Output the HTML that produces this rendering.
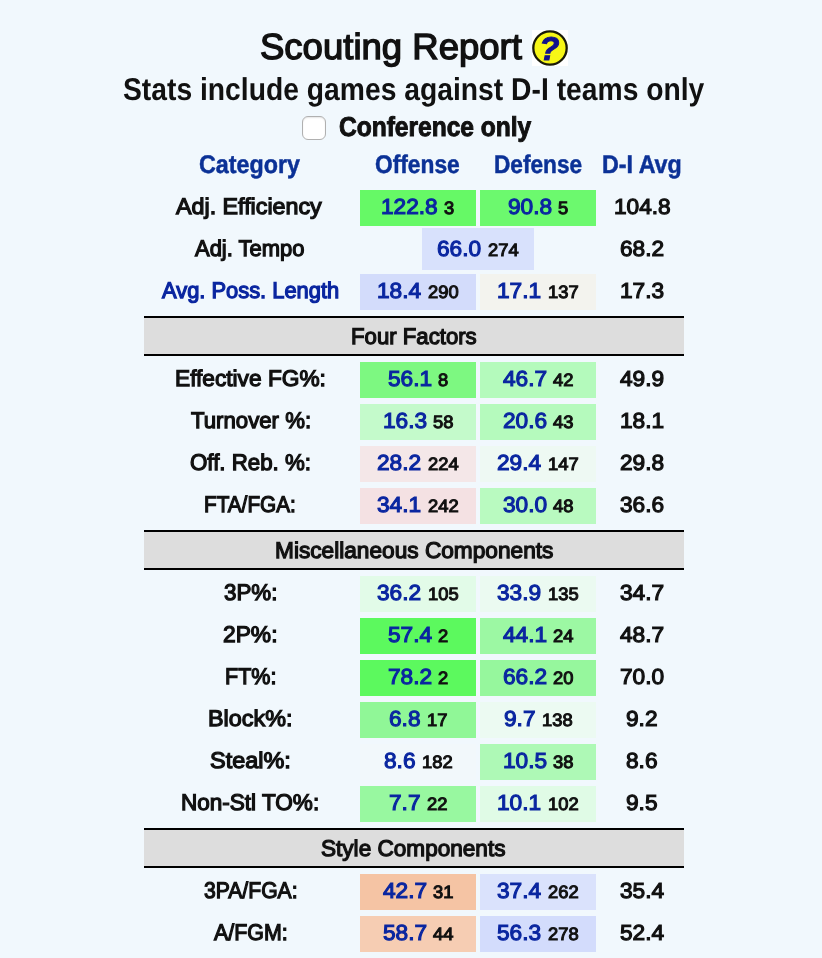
<!DOCTYPE html>
<html lang="en"><head><meta charset="utf-8"><title>Scouting Report</title>
<style>
html,body{margin:0;padding:0;}
body{width:822px;height:958px;background:#f1f8fd;position:relative;overflow:hidden;
 font-family:"Liberation Sans","DejaVu Sans",sans-serif;color:#111;text-rendering:geometricPrecision;}
.t{position:absolute;white-space:nowrap;line-height:1;transform-origin:0 0;display:block;-webkit-text-stroke:0px currentColor;font-weight:bold;}
.n{font-weight:normal;}
.cell{position:absolute;}
.sec{position:absolute;left:144px;width:540px;height:36px;border-top:2px solid #000;border-bottom:2px solid #000;background:#dddddd;}
.cb{-webkit-appearance:none;appearance:none;margin:0;padding:0;display:block;position:absolute;left:302px;top:116px;width:24px;height:23.5px;border:1.2px solid #b0b0b0;border-radius:6px;background:#fff;box-sizing:border-box;box-shadow:inset 0 1px 1.5px rgba(0,0,0,0.10);}
.help{position:absolute;left:532px;top:29.75px;width:36px;height:36px;background:#fff;}
</style></head><body>

<div class="sec" style="top:316px"></div>
<div class="sec" style="top:530px"></div>
<div class="sec" style="top:828px"></div>
<div class="cell" style="left:360px;top:190px;width:116px;height:36px;background:#66f966"></div>
<div class="cell" style="left:480px;top:190px;width:116px;height:36px;background:#6cf96e"></div>
<div class="cell" style="left:422px;top:228px;width:112px;height:42px;background:#d8e1fc"></div>
<div class="cell" style="left:360px;top:274px;width:116px;height:36px;background:#d3dcfb"></div>
<div class="cell" style="left:480px;top:274px;width:116px;height:36px;background:#f3f3ee"></div>
<div class="cell" style="left:360px;top:362px;width:116px;height:36px;background:#7df881"></div>
<div class="cell" style="left:480px;top:362px;width:116px;height:36px;background:#b4fabc"></div>
<div class="cell" style="left:360px;top:404px;width:116px;height:36px;background:#c4facb"></div>
<div class="cell" style="left:480px;top:404px;width:116px;height:36px;background:#b5fabd"></div>
<div class="cell" style="left:360px;top:446px;width:116px;height:36px;background:#f4e7e8"></div>
<div class="cell" style="left:480px;top:446px;width:116px;height:36px;background:#eef9f3"></div>
<div class="cell" style="left:360px;top:488px;width:116px;height:36px;background:#f4e1e3"></div>
<div class="cell" style="left:480px;top:488px;width:116px;height:36px;background:#b9fac0"></div>
<div class="cell" style="left:360px;top:576px;width:116px;height:36px;background:#e2fbe8"></div>
<div class="cell" style="left:480px;top:576px;width:116px;height:36px;background:#ebfaf1"></div>
<div class="cell" style="left:360px;top:618px;width:116px;height:36px;background:#5cf95e"></div>
<div class="cell" style="left:480px;top:618px;width:116px;height:36px;background:#9cf8a3"></div>
<div class="cell" style="left:360px;top:660px;width:116px;height:36px;background:#5cf95e"></div>
<div class="cell" style="left:480px;top:660px;width:116px;height:36px;background:#96f79d"></div>
<div class="cell" style="left:360px;top:702px;width:116px;height:36px;background:#90f797"></div>
<div class="cell" style="left:480px;top:702px;width:116px;height:36px;background:#ecfaf2"></div>
<div class="cell" style="left:360px;top:744px;width:116px;height:36px;background:#f2f8fb"></div>
<div class="cell" style="left:480px;top:744px;width:116px;height:36px;background:#aef9b6"></div>
<div class="cell" style="left:360px;top:786px;width:116px;height:36px;background:#98f8a0"></div>
<div class="cell" style="left:480px;top:786px;width:116px;height:36px;background:#e0fbe6"></div>
<div class="cell" style="left:360px;top:874px;width:116px;height:36px;background:#f5c4a4"></div>
<div class="cell" style="left:480px;top:874px;width:116px;height:36px;background:#dae2fc"></div>
<div class="cell" style="left:360px;top:916px;width:116px;height:36px;background:#f6cdb3"></div>
<div class="cell" style="left:480px;top:916px;width:116px;height:36px;background:#d3dcfc"></div>
<input type="checkbox" class="cb" aria-label="Conference only">
<div class="help"><svg width="36" height="36" viewBox="0 0 36 36"><circle cx="18" cy="18" r="16.7" fill="#f7f716" stroke="#1a1a08" stroke-width="2.3"/><text x="17.4" y="30.1" text-anchor="middle" font-family="Liberation Sans, sans-serif" font-weight="bold" font-style="italic" font-size="33" fill="#12128c" stroke="#12128c" stroke-width="1">?</text></svg></div>
<span class="t n" style="left:259.70px;top:28.67px;font-size:36.3px;transform:scaleX(1.0062);color:#111111;-webkit-text-stroke-width:1.4px;">Scouting Report</span>
<span class="t" style="left:123.00px;top:73.75px;font-size:31.6px;transform:scaleX(0.8949);color:#111111;">Stats include games against D-I teams only</span>
<span class="t" style="left:339.15px;top:112.89px;font-size:27.3px;transform:scaleX(0.8990);color:#111111;-webkit-text-stroke-width:1.0px;">Conference only</span>
<span class="t" style="left:198.82px;top:152.73px;font-size:25.6px;transform:scaleX(0.9101);color:#0b3196;-webkit-text-stroke-width:0.5px;">Category</span>
<span class="t" style="left:375.43px;top:152.73px;font-size:25.6px;transform:scaleX(0.8894);color:#0b3196;-webkit-text-stroke-width:0.5px;">Offense</span>
<span class="t" style="left:494.04px;top:152.73px;font-size:25.6px;transform:scaleX(0.8853);color:#0b3196;-webkit-text-stroke-width:0.5px;">Defense</span>
<span class="t" style="left:601.92px;top:152.73px;font-size:25.6px;transform:scaleX(0.9099);color:#0b3196;-webkit-text-stroke-width:0.5px;">D-I Avg</span>
<span class="t n" style="left:176.44px;top:195.18px;font-size:22.7px;transform:scaleX(1.0258);color:#111111;-webkit-text-stroke-width:1.25px;">Adj. Efficiency</span>
<span class="t n" style="left:195.41px;top:237.18px;font-size:22.7px;transform:scaleX(0.9682);color:#111111;-webkit-text-stroke-width:1.25px;">Adj. Tempo</span>
<span class="t n" style="left:161.60px;top:279.18px;font-size:22.7px;transform:scaleX(0.9644);color:#0a26a0;-webkit-text-stroke-width:1.25px;">Avg. Poss. Length</span>
<span class="t n" style="left:174.83px;top:367.18px;font-size:22.7px;transform:scaleX(0.9998);color:#111111;-webkit-text-stroke-width:1.25px;">Effective FG%:</span>
<span class="t n" style="left:190.61px;top:409.18px;font-size:22.7px;transform:scaleX(0.9783);color:#111111;-webkit-text-stroke-width:1.25px;">Turnover %:</span>
<span class="t n" style="left:189.63px;top:451.18px;font-size:22.7px;transform:scaleX(0.9828);color:#111111;-webkit-text-stroke-width:1.25px;">Off. Reb. %:</span>
<span class="t n" style="left:204.26px;top:493.18px;font-size:22.7px;transform:scaleX(0.9139);color:#111111;-webkit-text-stroke-width:1.25px;">FTA/FGA:</span>
<span class="t n" style="left:224.22px;top:581.18px;font-size:22.7px;transform:scaleX(0.9857);color:#111111;-webkit-text-stroke-width:1.25px;">3P%:</span>
<span class="t n" style="left:223.22px;top:623.18px;font-size:22.7px;transform:scaleX(1.0043);color:#111111;-webkit-text-stroke-width:1.25px;">2P%:</span>
<span class="t n" style="left:224.84px;top:665.18px;font-size:22.7px;transform:scaleX(0.9484);color:#111111;-webkit-text-stroke-width:1.25px;">FT%:</span>
<span class="t n" style="left:208.01px;top:707.18px;font-size:22.7px;transform:scaleX(1.0297);color:#111111;-webkit-text-stroke-width:1.25px;">Block%:</span>
<span class="t n" style="left:209.51px;top:749.18px;font-size:22.7px;transform:scaleX(1.0333);color:#111111;-webkit-text-stroke-width:1.25px;">Steal%:</span>
<span class="t n" style="left:181.43px;top:791.18px;font-size:22.7px;transform:scaleX(0.9930);color:#111111;-webkit-text-stroke-width:1.25px;">Non-Stl TO%:</span>
<span class="t n" style="left:203.88px;top:879.18px;font-size:22.7px;transform:scaleX(0.9314);color:#111111;-webkit-text-stroke-width:1.25px;">3PA/FGA:</span>
<span class="t n" style="left:213.59px;top:921.18px;font-size:22.7px;transform:scaleX(0.9425);color:#111111;-webkit-text-stroke-width:1.25px;">A/FGM:</span>
<span class="t n" style="left:351.23px;top:325.18px;font-size:22.7px;transform:scaleX(0.9774);color:#111111;-webkit-text-stroke-width:1.25px;">Four Factors</span>
<span class="t n" style="left:274.73px;top:539.18px;font-size:22.7px;transform:scaleX(0.9989);color:#111111;-webkit-text-stroke-width:1.25px;">Miscellaneous Components</span>
<span class="t n" style="left:321.43px;top:837.18px;font-size:22.7px;transform:scaleX(0.9952);color:#111111;-webkit-text-stroke-width:1.25px;">Style Components</span>
<span class="t n" style="left:381.39px;top:195.55px;font-size:21.8px;transform:scaleX(1.0400);color:#0a26a0;-webkit-text-stroke-width:1.1px;">122.8</span>
<span class="t n" style="left:444.41px;top:199.75px;font-size:17.9px;transform:scaleX(1.0250);color:#111111;-webkit-text-stroke-width:1.0625px;">3</span>
<span class="t n" style="left:507.69px;top:195.55px;font-size:21.8px;transform:scaleX(1.0400);color:#0a26a0;-webkit-text-stroke-width:1.1px;">90.8</span>
<span class="t n" style="left:558.11px;top:199.75px;font-size:17.9px;transform:scaleX(1.0250);color:#111111;-webkit-text-stroke-width:1.0625px;">5</span>
<span class="t n" style="left:437.49px;top:237.55px;font-size:21.8px;transform:scaleX(1.0400);color:#0a26a0;-webkit-text-stroke-width:1.1px;">66.0</span>
<span class="t n" style="left:487.91px;top:241.75px;font-size:17.9px;transform:scaleX(1.0250);color:#111111;-webkit-text-stroke-width:1.0625px;">274</span>
<span class="t n" style="left:377.49px;top:279.55px;font-size:21.8px;transform:scaleX(1.0400);color:#0a26a0;-webkit-text-stroke-width:1.1px;">18.4</span>
<span class="t n" style="left:427.91px;top:283.75px;font-size:17.9px;transform:scaleX(1.0250);color:#111111;-webkit-text-stroke-width:1.0625px;">290</span>
<span class="t n" style="left:497.49px;top:279.55px;font-size:21.8px;transform:scaleX(1.0400);color:#0a26a0;-webkit-text-stroke-width:1.1px;">17.1</span>
<span class="t n" style="left:547.91px;top:283.75px;font-size:17.9px;transform:scaleX(1.0250);color:#111111;-webkit-text-stroke-width:1.0625px;">137</span>
<span class="t n" style="left:387.69px;top:367.55px;font-size:21.8px;transform:scaleX(1.0400);color:#0a26a0;-webkit-text-stroke-width:1.1px;">56.1</span>
<span class="t n" style="left:438.11px;top:371.75px;font-size:17.9px;transform:scaleX(1.0250);color:#111111;-webkit-text-stroke-width:1.0625px;">8</span>
<span class="t n" style="left:502.59px;top:367.55px;font-size:21.8px;transform:scaleX(1.0400);color:#0a26a0;-webkit-text-stroke-width:1.1px;">46.7</span>
<span class="t n" style="left:553.01px;top:371.75px;font-size:17.9px;transform:scaleX(1.0250);color:#111111;-webkit-text-stroke-width:1.0625px;">42</span>
<span class="t n" style="left:382.59px;top:409.55px;font-size:21.8px;transform:scaleX(1.0400);color:#0a26a0;-webkit-text-stroke-width:1.1px;">16.3</span>
<span class="t n" style="left:433.01px;top:413.75px;font-size:17.9px;transform:scaleX(1.0250);color:#111111;-webkit-text-stroke-width:1.0625px;">58</span>
<span class="t n" style="left:502.59px;top:409.55px;font-size:21.8px;transform:scaleX(1.0400);color:#0a26a0;-webkit-text-stroke-width:1.1px;">20.6</span>
<span class="t n" style="left:553.01px;top:413.75px;font-size:17.9px;transform:scaleX(1.0250);color:#111111;-webkit-text-stroke-width:1.0625px;">43</span>
<span class="t n" style="left:377.49px;top:451.55px;font-size:21.8px;transform:scaleX(1.0400);color:#0a26a0;-webkit-text-stroke-width:1.1px;">28.2</span>
<span class="t n" style="left:427.91px;top:455.75px;font-size:17.9px;transform:scaleX(1.0250);color:#111111;-webkit-text-stroke-width:1.0625px;">224</span>
<span class="t n" style="left:497.49px;top:451.55px;font-size:21.8px;transform:scaleX(1.0400);color:#0a26a0;-webkit-text-stroke-width:1.1px;">29.4</span>
<span class="t n" style="left:547.91px;top:455.75px;font-size:17.9px;transform:scaleX(1.0250);color:#111111;-webkit-text-stroke-width:1.0625px;">147</span>
<span class="t n" style="left:377.49px;top:493.55px;font-size:21.8px;transform:scaleX(1.0400);color:#0a26a0;-webkit-text-stroke-width:1.1px;">34.1</span>
<span class="t n" style="left:427.91px;top:497.75px;font-size:17.9px;transform:scaleX(1.0250);color:#111111;-webkit-text-stroke-width:1.0625px;">242</span>
<span class="t n" style="left:502.59px;top:493.55px;font-size:21.8px;transform:scaleX(1.0400);color:#0a26a0;-webkit-text-stroke-width:1.1px;">30.0</span>
<span class="t n" style="left:553.01px;top:497.75px;font-size:17.9px;transform:scaleX(1.0250);color:#111111;-webkit-text-stroke-width:1.0625px;">48</span>
<span class="t n" style="left:377.49px;top:581.55px;font-size:21.8px;transform:scaleX(1.0400);color:#0a26a0;-webkit-text-stroke-width:1.1px;">36.2</span>
<span class="t n" style="left:427.91px;top:585.75px;font-size:17.9px;transform:scaleX(1.0250);color:#111111;-webkit-text-stroke-width:1.0625px;">105</span>
<span class="t n" style="left:497.49px;top:581.55px;font-size:21.8px;transform:scaleX(1.0400);color:#0a26a0;-webkit-text-stroke-width:1.1px;">33.9</span>
<span class="t n" style="left:547.91px;top:585.75px;font-size:17.9px;transform:scaleX(1.0250);color:#111111;-webkit-text-stroke-width:1.0625px;">135</span>
<span class="t n" style="left:387.69px;top:623.55px;font-size:21.8px;transform:scaleX(1.0400);color:#0a26a0;-webkit-text-stroke-width:1.1px;">57.4</span>
<span class="t n" style="left:438.11px;top:627.75px;font-size:17.9px;transform:scaleX(1.0250);color:#111111;-webkit-text-stroke-width:1.0625px;">2</span>
<span class="t n" style="left:502.59px;top:623.55px;font-size:21.8px;transform:scaleX(1.0400);color:#0a26a0;-webkit-text-stroke-width:1.1px;">44.1</span>
<span class="t n" style="left:553.01px;top:627.75px;font-size:17.9px;transform:scaleX(1.0250);color:#111111;-webkit-text-stroke-width:1.0625px;">24</span>
<span class="t n" style="left:387.69px;top:665.55px;font-size:21.8px;transform:scaleX(1.0400);color:#0a26a0;-webkit-text-stroke-width:1.1px;">78.2</span>
<span class="t n" style="left:438.11px;top:669.75px;font-size:17.9px;transform:scaleX(1.0250);color:#111111;-webkit-text-stroke-width:1.0625px;">2</span>
<span class="t n" style="left:502.59px;top:665.55px;font-size:21.8px;transform:scaleX(1.0400);color:#0a26a0;-webkit-text-stroke-width:1.1px;">66.2</span>
<span class="t n" style="left:553.01px;top:669.75px;font-size:17.9px;transform:scaleX(1.0250);color:#111111;-webkit-text-stroke-width:1.0625px;">20</span>
<span class="t n" style="left:388.89px;top:707.55px;font-size:21.8px;transform:scaleX(1.0400);color:#0a26a0;-webkit-text-stroke-width:1.1px;">6.8</span>
<span class="t n" style="left:426.71px;top:711.75px;font-size:17.9px;transform:scaleX(1.0250);color:#111111;-webkit-text-stroke-width:1.0625px;">17</span>
<span class="t n" style="left:503.79px;top:707.55px;font-size:21.8px;transform:scaleX(1.0400);color:#0a26a0;-webkit-text-stroke-width:1.1px;">9.7</span>
<span class="t n" style="left:541.61px;top:711.75px;font-size:17.9px;transform:scaleX(1.0250);color:#111111;-webkit-text-stroke-width:1.0625px;">138</span>
<span class="t n" style="left:383.79px;top:749.55px;font-size:21.8px;transform:scaleX(1.0400);color:#0a26a0;-webkit-text-stroke-width:1.1px;">8.6</span>
<span class="t n" style="left:421.61px;top:753.75px;font-size:17.9px;transform:scaleX(1.0250);color:#111111;-webkit-text-stroke-width:1.0625px;">182</span>
<span class="t n" style="left:502.59px;top:749.55px;font-size:21.8px;transform:scaleX(1.0400);color:#0a26a0;-webkit-text-stroke-width:1.1px;">10.5</span>
<span class="t n" style="left:553.01px;top:753.75px;font-size:17.9px;transform:scaleX(1.0250);color:#111111;-webkit-text-stroke-width:1.0625px;">38</span>
<span class="t n" style="left:388.89px;top:791.55px;font-size:21.8px;transform:scaleX(1.0400);color:#0a26a0;-webkit-text-stroke-width:1.1px;">7.7</span>
<span class="t n" style="left:426.71px;top:795.75px;font-size:17.9px;transform:scaleX(1.0250);color:#111111;-webkit-text-stroke-width:1.0625px;">22</span>
<span class="t n" style="left:497.49px;top:791.55px;font-size:21.8px;transform:scaleX(1.0400);color:#0a26a0;-webkit-text-stroke-width:1.1px;">10.1</span>
<span class="t n" style="left:547.91px;top:795.75px;font-size:17.9px;transform:scaleX(1.0250);color:#111111;-webkit-text-stroke-width:1.0625px;">102</span>
<span class="t n" style="left:382.59px;top:879.55px;font-size:21.8px;transform:scaleX(1.0400);color:#0a26a0;-webkit-text-stroke-width:1.1px;">42.7</span>
<span class="t n" style="left:433.01px;top:883.75px;font-size:17.9px;transform:scaleX(1.0250);color:#111111;-webkit-text-stroke-width:1.0625px;">31</span>
<span class="t n" style="left:497.49px;top:879.55px;font-size:21.8px;transform:scaleX(1.0400);color:#0a26a0;-webkit-text-stroke-width:1.1px;">37.4</span>
<span class="t n" style="left:547.91px;top:883.75px;font-size:17.9px;transform:scaleX(1.0250);color:#111111;-webkit-text-stroke-width:1.0625px;">262</span>
<span class="t n" style="left:382.59px;top:921.55px;font-size:21.8px;transform:scaleX(1.0400);color:#0a26a0;-webkit-text-stroke-width:1.1px;">58.7</span>
<span class="t n" style="left:433.01px;top:925.75px;font-size:17.9px;transform:scaleX(1.0250);color:#111111;-webkit-text-stroke-width:1.0625px;">44</span>
<span class="t n" style="left:497.49px;top:921.55px;font-size:21.8px;transform:scaleX(1.0400);color:#0a26a0;-webkit-text-stroke-width:1.1px;">56.3</span>
<span class="t n" style="left:547.91px;top:925.75px;font-size:17.9px;transform:scaleX(1.0250);color:#111111;-webkit-text-stroke-width:1.0625px;">278</span>
<span class="t n" style="left:613.64px;top:195.55px;font-size:21.8px;transform:scaleX(1.0400);color:#111111;-webkit-text-stroke-width:1.15px;">104.8</span>
<span class="t n" style="left:619.94px;top:237.55px;font-size:21.8px;transform:scaleX(1.0400);color:#111111;-webkit-text-stroke-width:1.15px;">68.2</span>
<span class="t n" style="left:619.94px;top:279.55px;font-size:21.8px;transform:scaleX(1.0400);color:#111111;-webkit-text-stroke-width:1.15px;">17.3</span>
<span class="t n" style="left:619.94px;top:367.55px;font-size:21.8px;transform:scaleX(1.0400);color:#111111;-webkit-text-stroke-width:1.15px;">49.9</span>
<span class="t n" style="left:619.94px;top:409.55px;font-size:21.8px;transform:scaleX(1.0400);color:#111111;-webkit-text-stroke-width:1.15px;">18.1</span>
<span class="t n" style="left:619.94px;top:451.55px;font-size:21.8px;transform:scaleX(1.0400);color:#111111;-webkit-text-stroke-width:1.15px;">29.8</span>
<span class="t n" style="left:619.94px;top:493.55px;font-size:21.8px;transform:scaleX(1.0400);color:#111111;-webkit-text-stroke-width:1.15px;">36.6</span>
<span class="t n" style="left:619.94px;top:581.55px;font-size:21.8px;transform:scaleX(1.0400);color:#111111;-webkit-text-stroke-width:1.15px;">34.7</span>
<span class="t n" style="left:619.94px;top:623.55px;font-size:21.8px;transform:scaleX(1.0400);color:#111111;-webkit-text-stroke-width:1.15px;">48.7</span>
<span class="t n" style="left:619.94px;top:665.55px;font-size:21.8px;transform:scaleX(1.0400);color:#111111;-webkit-text-stroke-width:1.15px;">70.0</span>
<span class="t n" style="left:626.24px;top:707.55px;font-size:21.8px;transform:scaleX(1.0400);color:#111111;-webkit-text-stroke-width:1.15px;">9.2</span>
<span class="t n" style="left:626.24px;top:749.55px;font-size:21.8px;transform:scaleX(1.0400);color:#111111;-webkit-text-stroke-width:1.15px;">8.6</span>
<span class="t n" style="left:626.24px;top:791.55px;font-size:21.8px;transform:scaleX(1.0400);color:#111111;-webkit-text-stroke-width:1.15px;">9.5</span>
<span class="t n" style="left:619.94px;top:879.55px;font-size:21.8px;transform:scaleX(1.0400);color:#111111;-webkit-text-stroke-width:1.15px;">35.4</span>
<span class="t n" style="left:619.94px;top:921.55px;font-size:21.8px;transform:scaleX(1.0400);color:#111111;-webkit-text-stroke-width:1.15px;">52.4</span>
</body></html>
